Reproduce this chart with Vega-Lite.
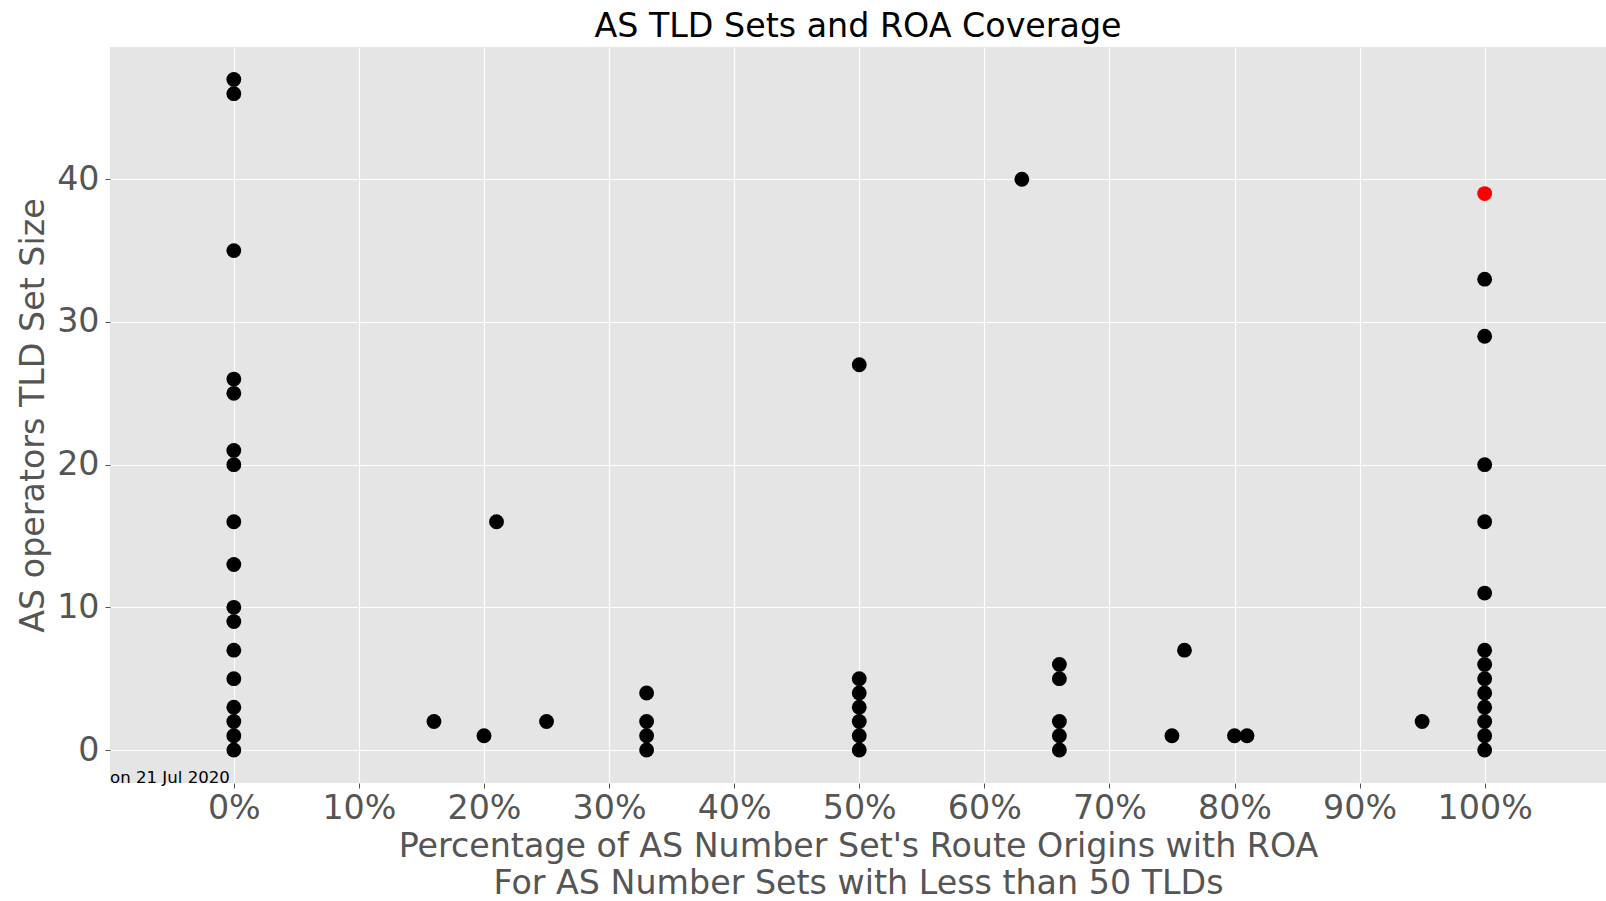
{
  "$schema": "https://vega.github.io/schema/vega-lite/v6.json",
  "width": 1496,
  "height": 736,
  "autosize": {"type": "none"},
  "padding": {"left": 110, "top": 47, "right": 0, "bottom": 118},
  "background": "white",
  "config": {
    "view": {"fill": "#E5E5E5", "stroke": null},
    "font": "DejaVu Sans",
    "axis": {
      "grid": true,
      "gridColor": "white",
      "gridWidth": 1.2,
      "domain": false,
      "tickColor": "#555555",
      "tickSize": 5,
      "labelFont": "DejaVu Sans",
      "labelFontSize": 33.3,
      "labelColor": "#555555",
      "titleFont": "DejaVu Sans",
      "titleFontSize": 33.3,
      "titleFontWeight": "normal",
      "titleColor": "#555555"
    }
  },
  "title": {
    "text": "AS TLD Sets and ROA Coverage",
    "font": "DejaVu Sans",
    "fontSize": 33.3,
    "fontWeight": "normal",
    "color": "black",
    "anchor": "middle",
    "offset": 3
  },
  "layer": [
    {
      "data": {
        "values": [
          {"pct": 0, "tlds": 47, "group": "other"},
          {"pct": 0, "tlds": 46, "group": "other"},
          {"pct": 0, "tlds": 35, "group": "other"},
          {"pct": 0, "tlds": 26, "group": "other"},
          {"pct": 0, "tlds": 25, "group": "other"},
          {"pct": 0, "tlds": 21, "group": "other"},
          {"pct": 0, "tlds": 20, "group": "other"},
          {"pct": 0, "tlds": 16, "group": "other"},
          {"pct": 0, "tlds": 13, "group": "other"},
          {"pct": 0, "tlds": 10, "group": "other"},
          {"pct": 0, "tlds": 9, "group": "other"},
          {"pct": 0, "tlds": 7, "group": "other"},
          {"pct": 0, "tlds": 5, "group": "other"},
          {"pct": 0, "tlds": 3, "group": "other"},
          {"pct": 0, "tlds": 2, "group": "other"},
          {"pct": 0, "tlds": 1, "group": "other"},
          {"pct": 0, "tlds": 0, "group": "other"},
          {"pct": 16, "tlds": 2, "group": "other"},
          {"pct": 20, "tlds": 1, "group": "other"},
          {"pct": 21, "tlds": 16, "group": "other"},
          {"pct": 25, "tlds": 2, "group": "other"},
          {"pct": 33, "tlds": 4, "group": "other"},
          {"pct": 33, "tlds": 2, "group": "other"},
          {"pct": 33, "tlds": 1, "group": "other"},
          {"pct": 33, "tlds": 0, "group": "other"},
          {"pct": 50, "tlds": 27, "group": "other"},
          {"pct": 50, "tlds": 5, "group": "other"},
          {"pct": 50, "tlds": 4, "group": "other"},
          {"pct": 50, "tlds": 3, "group": "other"},
          {"pct": 50, "tlds": 2, "group": "other"},
          {"pct": 50, "tlds": 1, "group": "other"},
          {"pct": 50, "tlds": 0, "group": "other"},
          {"pct": 63, "tlds": 40, "group": "other"},
          {"pct": 66, "tlds": 6, "group": "other"},
          {"pct": 66, "tlds": 5, "group": "other"},
          {"pct": 66, "tlds": 2, "group": "other"},
          {"pct": 66, "tlds": 1, "group": "other"},
          {"pct": 66, "tlds": 0, "group": "other"},
          {"pct": 75, "tlds": 1, "group": "other"},
          {"pct": 76, "tlds": 7, "group": "other"},
          {"pct": 80, "tlds": 1, "group": "other"},
          {"pct": 81, "tlds": 1, "group": "other"},
          {"pct": 95, "tlds": 2, "group": "other"},
          {"pct": 100, "tlds": 33, "group": "other"},
          {"pct": 100, "tlds": 29, "group": "other"},
          {"pct": 100, "tlds": 20, "group": "other"},
          {"pct": 100, "tlds": 16, "group": "other"},
          {"pct": 100, "tlds": 11, "group": "other"},
          {"pct": 100, "tlds": 7, "group": "other"},
          {"pct": 100, "tlds": 6, "group": "other"},
          {"pct": 100, "tlds": 5, "group": "other"},
          {"pct": 100, "tlds": 4, "group": "other"},
          {"pct": 100, "tlds": 3, "group": "other"},
          {"pct": 100, "tlds": 2, "group": "other"},
          {"pct": 100, "tlds": 1, "group": "other"},
          {"pct": 100, "tlds": 0, "group": "other"},
          {"pct": 100, "tlds": 39, "group": "highlight"}
        ]
      },
      "mark": {"type": "point", "filled": true, "opacity": 1, "size": 220, "shape": "circle"},
      "encoding": {
        "x": {
          "field": "pct",
          "type": "quantitative",
          "scale": {"domain": [-9.9, 109.7], "nice": false, "zero": false},
          "axis": {
            "values": [0, 10, 20, 30, 40, 50, 60, 70, 80, 90, 100],
            "labelExpr": "datum.value + '%'",
            "labelPadding": 4,
            "title": ["Percentage of AS Number Set's Route Origins with ROA", "For AS Number Sets with Less than 50 TLDs"],
            "titlePadding": 6,
            "titleLineHeight": 37
          }
        },
        "y": {
          "field": "tlds",
          "type": "quantitative",
          "scale": {"domain": [-2.31, 49.27], "nice": false, "zero": false},
          "axis": {
            "values": [0, 10, 20, 30, 40],
            "labelPadding": 6,
            "title": "AS operators TLD Set Size",
            "titlePadding": 6
          }
        },
        "color": {
          "field": "group",
          "type": "nominal",
          "scale": {"domain": ["other", "highlight"], "range": ["black", "red"]},
          "legend": null
        }
      }
    },
    {
      "data": {"values": [{}]},
      "mark": {"type": "text", "align": "left", "baseline": "alphabetic", "fontSize": 16.6, "font": "DejaVu Sans", "color": "black"},
      "encoding": {
        "x": {"datum": -9.9, "type": "quantitative"},
        "y": {"datum": -2.34, "type": "quantitative"},
        "text": {"value": "on 21 Jul 2020"}
      }
    }
  ]
}
